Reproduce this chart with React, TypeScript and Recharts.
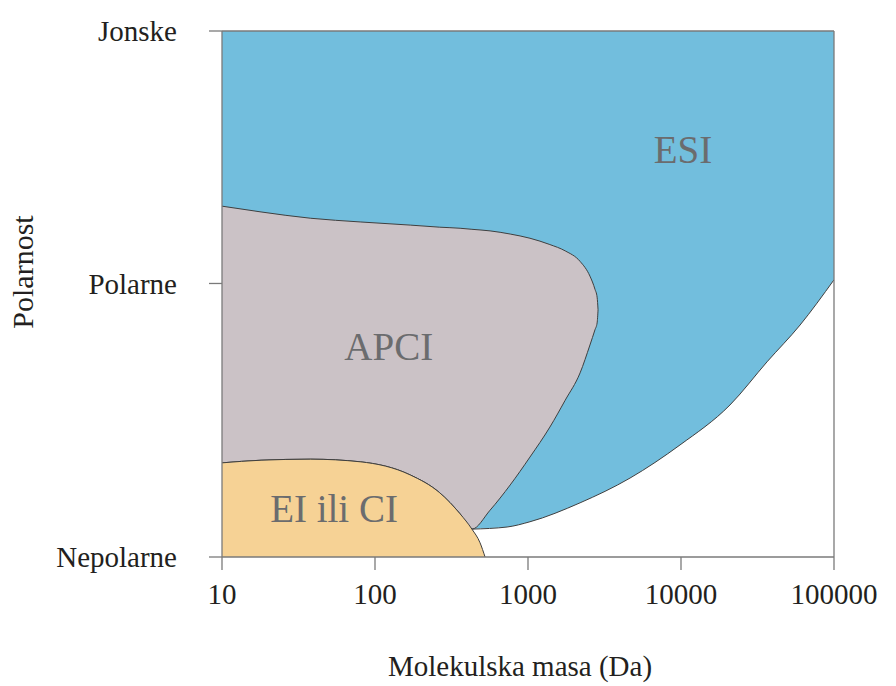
import React from "react";
import {
  ComposedChart,
  Area,
  Line,
  XAxis,
  YAxis,
  ReferenceLine,
  ReferenceDot,
} from "recharts";

// x: molekulska masa (Da), log scale; y: polarnost 0 (nepolarne) .. 100 (jonske)
const massTicks = [10, 100, 1000, 10000, 100000];
const polarityTicks = [0, 52, 100];
const polarityLabels = ["Nepolarne", "Polarne", "Jonske"];

// APCI region: upper edge (towards ESI) and lower edge (EI border, then ESI flank)
const apciMass = [10, 18, 38, 80, 170, 265, 360, 430, 565, 765, 1030, 1390, 1750, 2190, 2540, 2740, 2830, 2870];
const apciUpper = [66.7, 65.6, 64.4, 63.7, 63.1, 62.7, 62.5, 62.3, 62.0, 61.4, 60.6, 59.4, 58.2, 56.2, 53.4, 50.9, 49.4, 47.0];
const apciLower = [17.9, 18.4, 18.6, 18.1, 15.6, 12.2, 8.2, 5.3, 8.9, 13.7, 19.0, 24.7, 29.8, 35.0, 40.3, 43.2, 44.5, 47.0];

// EI ili CI region: top edge
const eiMass = [10, 18, 38, 80, 170, 265, 360, 430, 486, 524];
const eiTop = [17.9, 18.4, 18.6, 18.1, 15.6, 12.2, 8.2, 5.3, 2.7, 0];

// ESI region: lower edge (above it everything up to "Jonske")
const esiMass = [430, 730, 1030, 2190, 4640, 9850, 20900, 36500, 60000, 100000];
const esiLower = [5.3, 5.7, 6.7, 10.3, 15.0, 21.3, 28.9, 37.1, 44.1, 52.7];

const COLORS = {
  esi: "#72bedd",
  apci: "#cbc2c6",
  ei: "#f6d295",
  edge: "#3f3f3f",
  axis: "#7a7a7a",
  text: "#231f20",
  region: "#6b6c6e",
};
const FONT = "'Liberation Serif', 'Times New Roman', serif";

const apciData = apciMass.map((m, i) => ({ mass: m, range: [apciLower[i], apciUpper[i]] }));
const eiData = eiMass.map((m, i) => ({ mass: m, top: eiTop[i] }));
const esiEdge = esiMass.map((m, i) => ({ mass: m, lower: esiLower[i] }));
// left of the APCI/ESI junction the ESI fill is hidden under APCI and EI
const esiData = [
  { mass: 10, range: [0, 100] },
  { mass: 400, range: [0, 100] },
  ...esiMass.map((m, i) => ({ mass: m, range: [esiLower[i], 100] })),
];

const tickStyle = { fill: COLORS.text, fontSize: 29, fontFamily: FONT };
const regionLabel = (value: string) => ({
  value,
  position: "center" as const,
  fill: COLORS.region,
  fontSize: 39,
  fontFamily: FONT,
});

export default function App() {
  return (
    <div style={{ position: "absolute", left: 0, top: 0, background: "#fff" }}>
      <ComposedChart
        width={896}
        height={686}
        margin={{ top: 31, right: 62, bottom: 0, left: 0 }}
      >
        <Area
          data={esiData}
          dataKey="range"
          type="monotone"
          fill={COLORS.esi}
          fillOpacity={1}
          stroke="none"
          isAnimationActive={false}
        />
        <Area
          data={apciData}
          dataKey="range"
          type="monotone"
          fill={COLORS.apci}
          fillOpacity={1}
          stroke={COLORS.edge}
          strokeWidth={1}
          isAnimationActive={false}
        />
        <Area
          data={eiData}
          dataKey="top"
          type="monotone"
          fill={COLORS.ei}
          fillOpacity={1}
          stroke={COLORS.edge}
          strokeWidth={1}
          isAnimationActive={false}
        />
        <Line
          data={esiEdge}
          dataKey="lower"
          type="monotone"
          stroke={COLORS.edge}
          strokeWidth={1}
          dot={false}
          isAnimationActive={false}
        />
        <XAxis
          dataKey="mass"
          type="number"
          scale="log"
          domain={[10, 100000]}
          allowDataOverflow
          ticks={massTicks}
          interval={0}
          height={129}
          tickSize={13}
          tickMargin={13}
          tick={tickStyle}
          stroke={COLORS.axis}
          strokeWidth={1.3}
          label={{
            content: () => (
              <text x={520} y={676} textAnchor="middle" fill={COLORS.text} fontSize={29} fontFamily={FONT}>
                Molekulska masa (Da)
              </text>
            ),
          }}
        />
        <YAxis
          type="number"
          domain={[0, 100]}
          ticks={polarityTicks}
          interval={0}
          width={222}
          tickSize={13}
          tickMargin={32}
          tick={tickStyle}
          tickFormatter={(v: number) => polarityLabels[polarityTicks.indexOf(v)]}
          stroke={COLORS.axis}
          strokeWidth={1.3}
          label={{
            content: () => (
              <text
                x={33}
                y={272}
                transform="rotate(-90 33 272)"
                textAnchor="middle"
                fill={COLORS.text}
                fontSize={30}
                fontFamily={FONT}
              >
                Polarnost
              </text>
            ),
          }}
        />
        <ReferenceLine y={100} stroke={COLORS.axis} strokeWidth={1.3} />
        <ReferenceLine x={100000} stroke={COLORS.axis} strokeWidth={1.3} />
        <ReferenceDot x={10300} y={77.6} r={0} fill="none" stroke="none" label={regionLabel("ESI")} />
        <ReferenceDot x={123} y={40} r={0} fill="none" stroke="none" label={regionLabel("APCI")} />
        <ReferenceDot x={54} y={9.2} r={0} fill="none" stroke="none" label={regionLabel("EI ili CI")} />
      </ComposedChart>
    </div>
  );
}
